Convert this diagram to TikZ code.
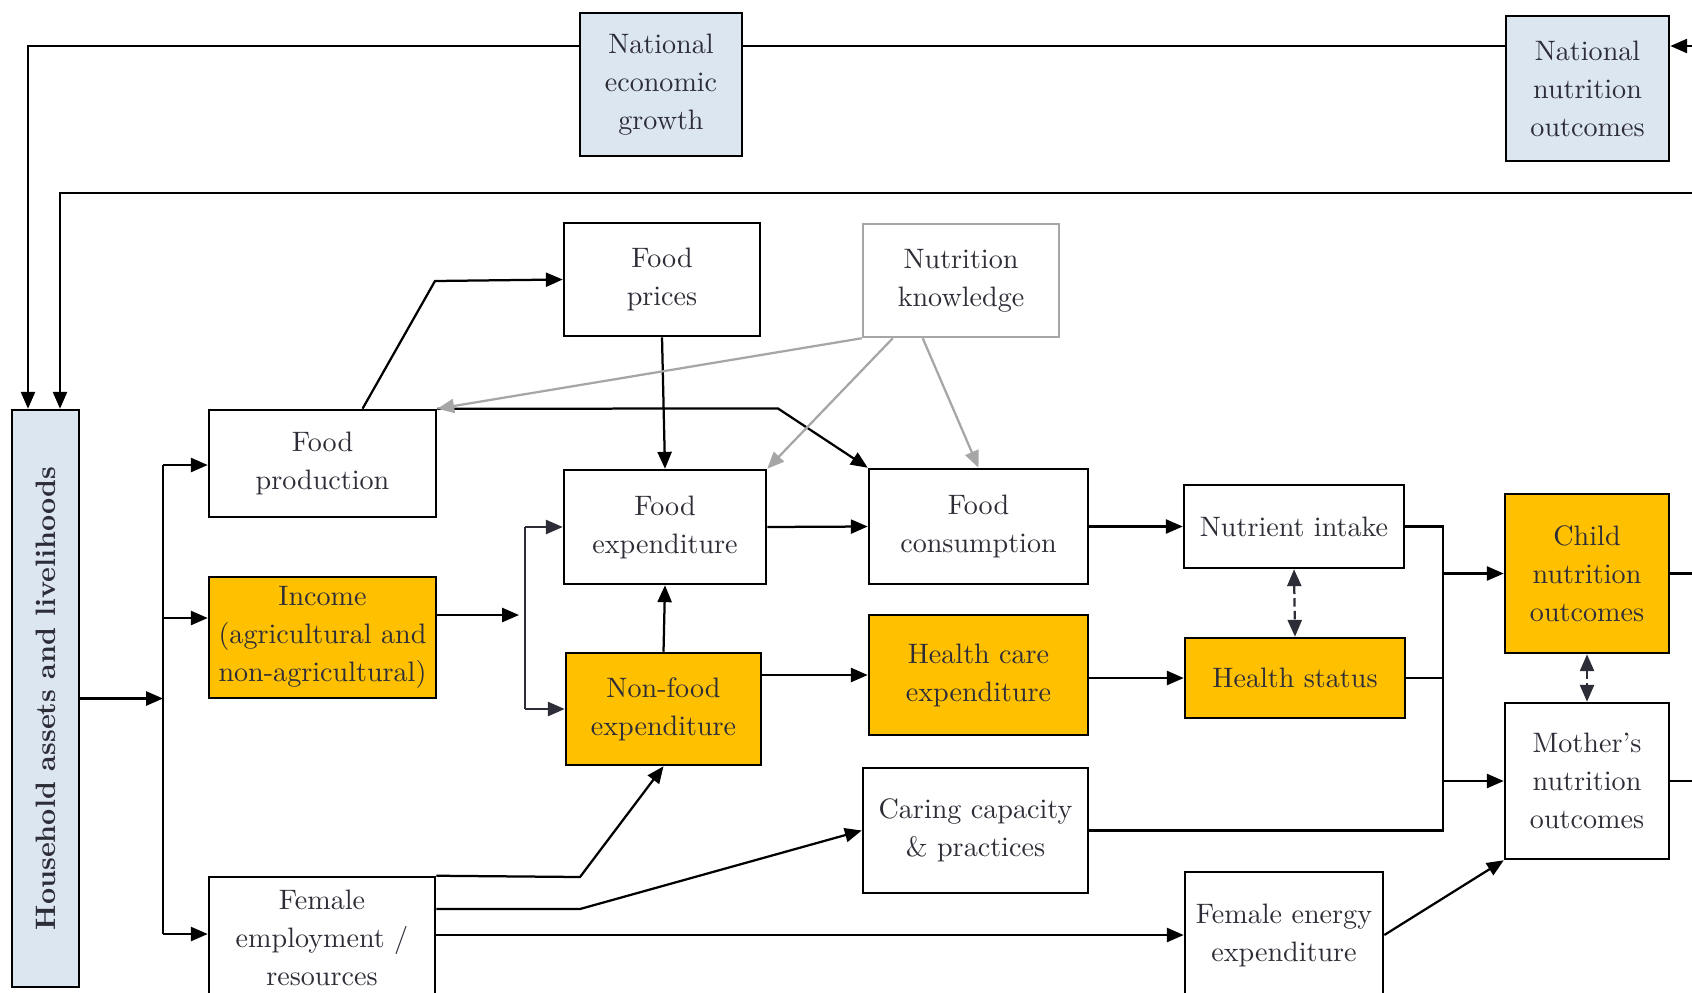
\documentclass[tikz,border=0pt]{standalone}
\usetikzlibrary{arrows.meta}
\definecolor{paleblue}{RGB}{220,230,241}
\definecolor{amber}{RGB}{255,192,0}
\definecolor{inkgray}{RGB}{45,45,55}
\definecolor{softgray}{RGB}{166,166,166}

\begin{document}
\begin{tikzpicture}[x=0.125mm,y=-0.125mm,
  >={Triangle[length=6pt,width=5pt]},
  every node/.style={font=\fontsize{10}{13.5}\selectfont,text=inkgray,align=center},
  box/.style={draw,line width=0.9pt,inner sep=0pt},
  bluebox/.style={box,fill=paleblue},
  orangebox/.style={box,fill=amber},
  greybox/.style={box,draw=softgray},
  link/.style={line width=0.8pt},
  dark/.style={link,inkgray},
  soft/.style={link,softgray,->}]
  \path[use as bounding box] (0,0) rectangle (1692,992);
  \clip (0,0) rectangle (1692,992);

  \node[bluebox,minimum width=2.025cm,minimum height=1.7875cm] (neg) at (661,84.5) {National\\economic\\growth};
  \node[bluebox,minimum width=2.0375cm,minimum height=1.8125cm] (nno) at (1587.5,88.5) {National\\nutrition\\outcomes};
  \node[bluebox,minimum width=0.8375cm,minimum height=7.2125cm] (hh) at (45.5,698.5) {\rotatebox{90}{\bfseries Household assets and livelihoods}};
  \node[box,minimum width=2.8375cm,minimum height=1.3375cm] (fprod) at (322.5,463.5) {Food\\production};
  \node[orangebox,minimum width=2.8375cm,minimum height=1.5125cm] (inc) at (322.5,637.5) {Income\\(agricultural and\\non-agricultural)};
  \node[box,minimum width=2.825cm,minimum height=1.525cm] (femp) at (322,938) {Female\\employment /\\resources};
  \node[box,minimum width=2.45cm,minimum height=1.4125cm] (fprice) at (662,279.5) {Food\\prices};
  \node[box,minimum width=2.525cm,minimum height=1.425cm] (fexp) at (665,527) {Food\\expenditure};
  \node[orangebox,minimum width=2.4375cm,minimum height=1.4cm] (nfexp) at (663.5,709) {Non-food\\expenditure};
  \node[greybox,minimum width=2.45cm,minimum height=1.4125cm] (nk) at (961,280.5) {Nutrition\\knowledge};
  \node[box,minimum width=2.7375cm,minimum height=1.4375cm] (fcons) at (978.5,526.5) {Food\\consumption};
  \node[orangebox,minimum width=2.7375cm,minimum height=1.5cm] (hcexp) at (978.5,675) {Health care\\expenditure};
  \node[box,minimum width=2.8125cm,minimum height=1.5625cm] (care) at (975.5,830.5) {Caring capacity\\\& practices};
  \node[box,minimum width=2.75cm,minimum height=1.0375cm] (nint) at (1294,526.5) {Nutrient intake};
  \node[orangebox,minimum width=2.75cm,minimum height=1cm] (hstat) at (1295,678) {Health status};
  \node[box,minimum width=2.475cm,minimum height=1.575cm] (fen) at (1284,935) {Female energy\\expenditure};
  \node[orangebox,minimum width=2.05cm,minimum height=1.9875cm] (child) at (1587,573.5) {Child\\nutrition\\outcomes};
  \node[box,minimum width=2.05cm,minimum height=1.95cm] (mother) at (1587,781) {Mother's\\nutrition\\outcomes};

  \coordinate (topline) at (0,46);
  \coordinate (midline) at (0,193);
  \coordinate (edge) at (1692,0);
  \coordinate (xa) at (28,0);
  \coordinate (xb) at (60,0);
  \coordinate (busT) at (163,465);
  \coordinate (busI) at (163,618);
  \coordinate (busB) at (163,934);
  \coordinate (incend) at (519,615);
  \coordinate (splitT) at (525,527);
  \coordinate (splitB) at (525,709);
  \coordinate (busR) at (1443,0);
  \coordinate (bendA) at (580,877);
  \coordinate (bendB) at (580,909);
  \coordinate (knee) at (435,281);
  \coordinate (ridge) at (778,408.5);

  \draw[link,->] (edge |- topline) -- (nno.east |- topline);
  \draw[link] (nno.west |- topline) -- (neg.east |- topline);
  \draw[link,->] (neg.west |- topline) -| (hh.north -| xa);
  \draw[link,->] (edge |- midline) -| (hh.north -| xb);
  \draw[link] (child.east) -- (child.east -| edge);
  \draw[link] (mother.east) -- (mother.east -| edge);

  \draw[link,->] (hh.east) -- (hh.east -| busT);
  \draw[link] (busT) -- (busB);
  \draw[link,->] (busT) -- (busT -| fprod.west);
  \draw[link,->] (busI) -- (busI -| inc.west);
  \draw[link,->] (busB) -- (busB -| femp.west);

  \draw[link,->] ([xshift=0.5cm]fprod.north) -- (knee) -- (fprice.west);
  \draw[link,->] (fprod.north east) -- (ridge) -- (fcons.north west);
  \draw[link,->] (fprice.south) -- (fexp.north);
  \draw[soft] (nk.south west) -- (fprod.north east);
  \draw[soft] ([xshift=0.3875cm]nk.south west) -- (fexp.north east);
  \draw[soft] ([xshift=0.7625cm]nk.south west) -- (fcons.north);

  \draw[link,->] (inc.east |- incend) -- (incend);
  \draw[dark] (splitT) -- (splitB);
  \draw[dark,->] (splitT) -- (fexp.west);
  \draw[dark,->] (splitB) -- (nfexp.west);
  \draw[link,->] (nfexp.north) -- (fexp.south);
  \draw[link,->] (fexp.east) -- (fcons.west);
  \draw[link,->] (nfexp.east |- hcexp.west) -- (hcexp.west);
  \draw[link,->] (fcons.east) -- (nint.west);
  \draw[link,->] (hcexp.east |- hstat.west) -- (hstat.west);
  \draw[dark,dash pattern=on 3pt off 1.5pt,<->] (nint.south) -- (hstat.north);

  \draw[link] (nint.east) -- (nint.east -| busR) -- (care.east -| busR) -- (care.east);
  \draw[link] (hstat.east) -- (hstat.east -| busR);
  \draw[link,->] (child.west -| busR) -- (child.west);
  \draw[link,->] (mother.west -| busR) -- (mother.west);
  \draw[dark,dash pattern=on 3pt off 1.5pt,<->] (child.south) -- (mother.north);

  \draw[link,->] (femp.north east) -- (bendA) -- (nfexp.south);
  \draw[link,->] (femp.east |- bendB) -- (bendB) -- (care.west);
  \draw[link,->] (femp.east |- fen.west) -- (fen.west);
  \draw[link,->] (fen.east) -- (mother.south west);
\end{tikzpicture}
\end{document}
